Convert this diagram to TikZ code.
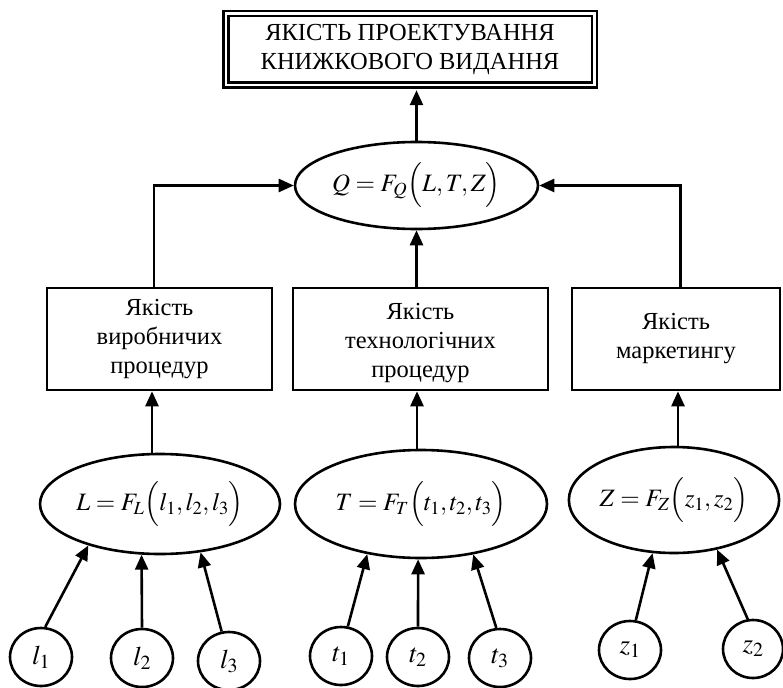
\documentclass[tikz,border=0pt]{standalone}
\usepackage{mathptmx}
\usepackage{fontspec}
\setmainfont{Liberation Serif}
\usetikzlibrary{arrows.meta,shapes.geometric}
\begin{document}
\begin{tikzpicture}[x=1pt,y=-1pt,
  every node/.style={font=\fontsize{24.5}{29}\selectfont},
  mathf/.style={font=\fontsize{25}{29}\selectfont},
  conn/.style={line width=2.6pt,-{Triangle[length=15pt,width=13pt]}},
  boxnode/.style={draw,line width=2.6pt,rectangle,align=center,minimum height=102pt,inner sep=0pt},
  ell/.style={draw,ellipse,line width=2.6pt,inner sep=0pt,mathf},
  leaf/.style={draw,ellipse,line width=2.6pt,inner sep=0pt,minimum width=62pt,minimum height=58pt,font=\fontsize{27}{29}\selectfont},
]
\useasboundingbox (0,0) rectangle (783,687);

\node[draw,double,line width=2.5pt,double distance=2.5pt,minimum width=368.5pt,minimum height=71.5pt,align=center,inner sep=0pt] (top) at (410,49.5) {ЯКІСТЬ ПРОЕКТУВАННЯ\\КНИЖКОВОГО ВИДАННЯ};

\node[ell,minimum width=243pt,minimum height=87pt] (Q) at (416.5,185.5) {$Q=F_Q\Bigl(L,T,Z\Bigr)$};

\node[boxnode,minimum width=225pt] (lb) at (159.5,339) {Якість\\виробничих\\процедур};
\node[boxnode,minimum width=255pt] (mb) at (420.5,339) {\rule{0pt}{24pt}Якість\\технологічних\\процедур};
\node[boxnode,minimum width=208pt] (rb) at (676,339) {Якість\\маркетингу};

\node[ell,minimum width=240pt,minimum height=100pt] (L) at (160,504) {$L=F_L\Bigl(l_1,l_2,l_3\Bigr)$};
\node[ell,minimum width=252pt,minimum height=108pt] (T) at (421,504) {$T=F_T\Bigl(t_1,t_2,t_3\Bigr)$};
\node[ell,minimum width=210pt,minimum height=106pt] (Z) at (674,500) {$Z=F_Z\Bigl(z_1,z_2\Bigr)$};

\node[leaf] (l1) at (41,657) {$l_1$};
\node[leaf] (l2) at (142,658) {$l_2$};
\node[leaf] (l3) at (229,661) {$l_3$};
\node[leaf] (t1) at (341,656) {$t_1$};
\node[leaf] (t2) at (418,657) {$t_2$};
\node[leaf] (t3) at (500,658) {$t_3$};
\node[leaf] (z1) at (630,650) {$z_1$};
\node[leaf,minimum width=60pt] (z2) at (753,649) {$z_2$};

% upper connectors
\draw[conn,shorten >=3.75pt] (Q.north) -- (Q.north |- top.south);
\draw[conn] ([xshift=-5.5pt]lb.north) |- (Q.west);
\draw[conn] ([xshift=4.5pt]rb.north) |- (Q.east);
\draw[conn] (mb.north -| Q.south) -- (Q.south);

% ellipse to boxes
\coordinate (la) at ([xshift=-8pt]L.north);
\coordinate (ta) at ([xshift=-4pt]T.north);
\coordinate (za) at ([xshift=4pt]Z.north);
\draw[conn] (la) -- (la |- lb.south);
\draw[conn] (ta) -- (ta |- mb.south);
\draw[conn] (za) -- (za |- rb.south);

% leaves
\draw[conn] (l1.82) -- (L.210);
\draw[conn] (l2.90) -- (L.250);
\draw[conn] (l3.104) -- (L.310);
\draw[conn] (t1.77) -- (T.223);
\draw[conn] (t2.90) -- (T.267);
\draw[conn] (t3.97) -- (T.316);
\draw[conn] (z1.79) -- (Z.248);
\draw[conn] (z2.100) -- (Z.311);
\end{tikzpicture}
\end{document}
